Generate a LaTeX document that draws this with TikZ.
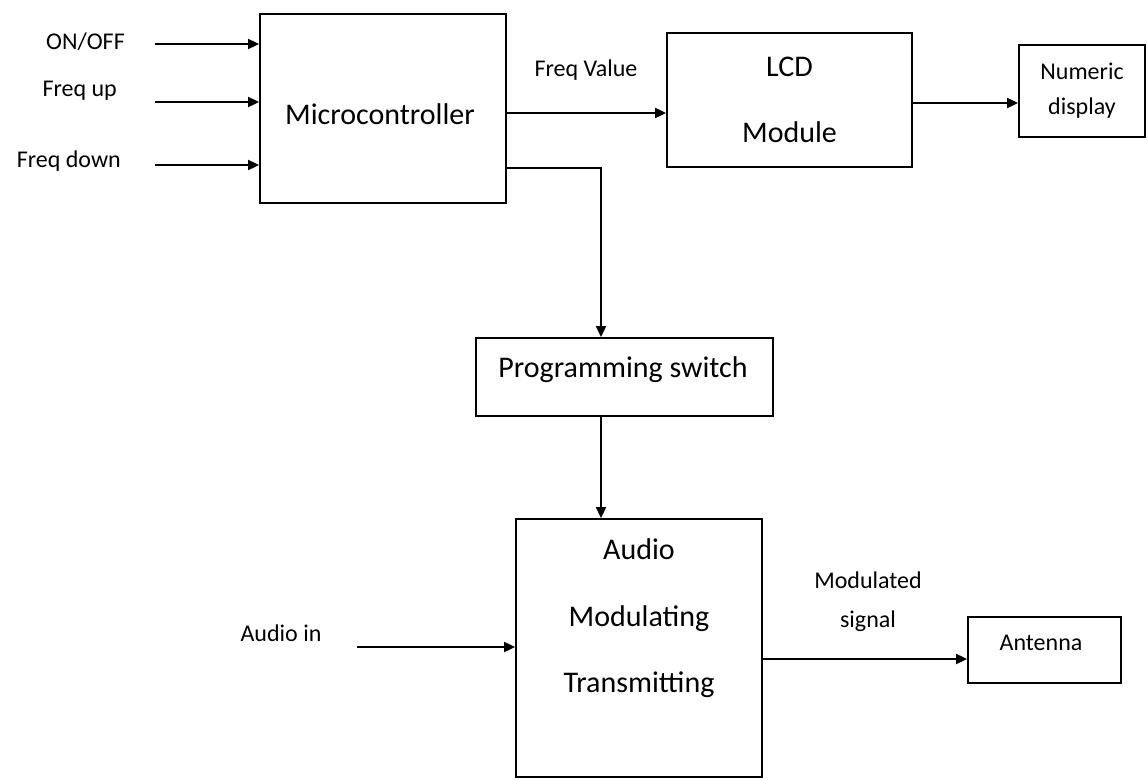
\documentclass[tikz,border=0pt]{standalone}
\usepackage{fontspec}
\setmainfont{Carlito}
\usetikzlibrary{arrows.meta}
\tikzset{
  blk/.style={draw,line width=1.8pt,inner sep=0pt,align=center,font=\fontsize{30}{66}\selectfont},
  lbl/.style={inner sep=0pt,align=center,font=\fontsize{24}{29}\selectfont},
  big/.style={inner sep=0pt,align=center,font=\fontsize{30}{36}\selectfont},
  arr/.style={-{Triangle[length=11pt,width=10pt]},line width=1.8pt}
}

\begin{document}
\begin{tikzpicture}[x=1pt,y=-1pt]
  \useasboundingbox (0,0) rectangle (1147,779);
  % blocks
  \node[blk,minimum width=246pt,minimum height=189pt] (mcu) at (383,108.5) {};
  \node[big] (mcutxt) at (380,114) {Microcontroller};
  \node[blk,minimum width=245pt,minimum height=134pt] (lcd) at (789.5,100) {LCD\\Module};
  \node[blk,minimum width=126pt,minimum height=92pt,font=\fontsize{24}{35}\selectfont] (num) at (1082,91) {Numeric\\display};
  \node[blk,minimum width=297pt,minimum height=78pt] (psw) at (624.5,377) {};
  \node[big] (pswtxt) at (623,370) {Programming switch};
  \node[blk,minimum width=246pt,minimum height=258pt] (audio) at (639,648) {};
  \node[big,font=\fontsize{30}{66.5}\selectfont] (audiotxt) at (639,618.5) {Audio\\Modulating\\Transmitting};
  \node[blk,minimum width=153pt,minimum height=66pt] (ant) at (1044.5,650) {};
  \node[lbl] (anttxt) at (1041,643) {Antenna};
  % inputs
  \node[lbl,anchor=east] (onoff) at (125,42) {ON/OFF};
  \node[lbl,anchor=east] (fup) at (117,91) {Freq up};
  \node[lbl,anchor=east] (fdown) at (121,161) {Freq down};
  \coordinate (in1) at (155,44);
  \coordinate (in2) at (155,102);
  \coordinate (in3) at (155,165);
  \foreach \c in {in1,in2,in3}
    \draw[arr] (\c) -- (\c -| mcu.west);
  % microcontroller outputs
  \node[lbl] (fval) at (586,70) {Freq Value};
  \coordinate (fv) at (mcu.east |- 0,113);
  \draw[arr] (fv) -- (fv -| lcd.west);
  \draw[arr] ([yshift=-3pt]lcd.east) -- ([yshift=-3pt]lcd.east -| num.west);
  \coordinate (tap) at (601,168);
  \draw[arr] (tap -| mcu.east) -- (tap) -- (tap |- psw.north);
  \draw[arr] (tap |- psw.south) -- (tap |- audio.north);
  % audio path
  \node[lbl] (ain) at (281,633) {Audio in};
  \coordinate (ainend) at (357,647);
  \draw[arr] (ainend) -- (ainend -| audio.west);
  \node[lbl,font=\fontsize{24}{39}\selectfont] (modsig) at (868,602) {Modulated\\signal};
  \coordinate (mod) at (audio.east |- 0,659);
  \draw[arr] (mod) -- (mod -| ant.west);
\end{tikzpicture}
\end{document}
